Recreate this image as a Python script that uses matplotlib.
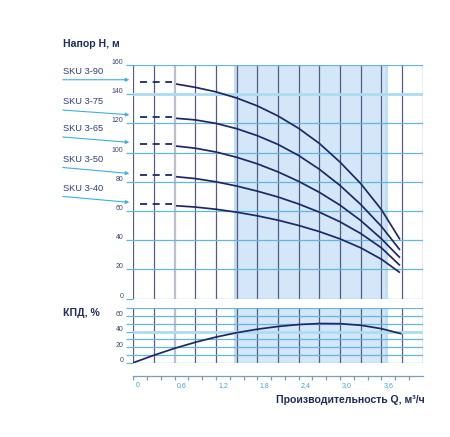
import numpy as np
import matplotlib
matplotlib.use("Agg")
import matplotlib.pyplot as plt
from matplotlib.transforms import ScaledTranslation

plt.rcParams['font.family'] = ['Liberation Sans', 'DejaVu Sans']

# --- data ---
models = ["SKU 3-90", "SKU 3-75", "SKU 3-65", "SKU 3-50", "SKU 3-40"]

# dashed part (start region) of each curve
q_dash = [0.09, 0.56]
h_shutoff = [148.6, 124.6, 105.7, 84.4, 64.6]

# solid head curves, H [m]
q_head = [0.62, 0.9, 1.2, 1.5, 1.8, 2.1, 2.4, 2.7, 3.0, 3.3, 3.6, 3.87]
h_3_90 = [147.0, 144.7, 141.6, 137.4, 132.0, 125.1, 116.6, 106.3, 93.5, 78.8, 61.0, 40.5]
h_3_75 = [123.5, 122.4, 120.0, 116.4, 111.6, 105.6, 98.0, 88.6, 77.5, 64.5, 49.5, 33.3]
h_3_65 = [104.5, 103.0, 100.4, 96.8, 92.3, 86.8, 80.3, 72.8, 64.0, 53.5, 41.0, 28.0]
h_3_50 = [83.5, 82.2, 80.0, 77.1, 73.6, 69.6, 64.8, 59.2, 52.6, 44.6, 34.8, 22.7]
h_3_40 = [63.6, 62.7, 61.2, 59.2, 56.7, 53.7, 50.1, 45.9, 40.9, 34.8, 27.0, 17.8]
heads = [h_3_90, h_3_75, h_3_65, h_3_50, h_3_40]

# efficiency curve, %
q_eff = [0, 0.3, 0.6, 0.9, 1.2, 1.5, 1.8, 2.1, 2.4, 2.7, 3.0, 3.3, 3.6, 3.88]
eff = [0, 9.6, 18.5, 26.3, 33.0, 38.6, 43.1, 46.6, 49.1, 50.4, 50.2, 48.2, 43.8, 37.5]

# recommended working range
work_lo, work_hi = 1.47, 3.67

x_labels = ["0", "0,6", "1,2", "1,8", "2,4", "3,0", "3,6"]

# --- styles ---
navy = '#1d2868'
grid_v = '#585c84'
grid_v_light = '#bcbfce'
grid_h = '#62b7dc'
grid_h_hl = '#abdcf1'
shade = '#d3e7f8'
shade_edge = '#c2def4'
tick_txt = '#3b4572'
lbl_blue = '#3aa6dd'
arrow_blue = '#3cb0e2'

W, H = 450, 437
fig = plt.figure(figsize=(W / 100, H / 100), dpi=100)
ax_h = fig.add_axes([133.3 / W, 1 - 298.6 / H, 289.4 / W, 233.6 / H])
ax_e = fig.add_axes([133.3 / W, 1 - 362.7 / H, 289.4 / W, 54.4 / H])

vlines = np.round(np.arange(0, 4.21, 0.3), 2)


def draw_grid(ax, ymax, ystep, highlight):
    ax.axvspan(work_lo, work_hi, color=shade, lw=0, zorder=0)
    for xe in (work_lo, work_hi):
        ax.axvline(xe, color=shade_edge, lw=2.2, zorder=0.5)
    for xv in vlines:
        if abs(xv - 0.6) < 1e-6:
            ax.axvline(xv, color=grid_v_light, lw=1.6, zorder=1)
        else:
            ax.axvline(xv, color=grid_v, lw=0.9, zorder=1)
    for yv in np.arange(0, ymax + 0.1, ystep):
        if abs(yv - highlight) < 1e-6:
            ax.axhline(yv, color=grid_h_hl, lw=2.0, zorder=1)
        else:
            ax.axhline(yv, color=grid_h, lw=0.9, zorder=1)
    ax.set_xlim(0, 4.2)
    ax.set_ylim(0, ymax)
    for s in ax.spines.values():
        s.set_visible(False)


# --- head chart ---
draw_grid(ax_h, 160, 20, 140)
for name, h0, hs in zip(models, h_shutoff, heads):
    ax_h.plot(q_dash, [h0, h0], color=navy, lw=1.3, ls=(0, (3.9, 3.1)), zorder=3)
    ax_h.plot(q_head, hs, color=navy, lw=1.25, zorder=3, solid_capstyle='butt',
              solid_joinstyle='round')

tails = [0, 3.4, 3.9, 4.3, 4.3]
for name, h0, dy in zip(models, h_shutoff, tails):
    ax_h.annotate('', xy=(-0.058, h0 + 1.3), xytext=(-47.9, dy), textcoords='offset points',
                  annotation_clip=False,
                  arrowprops=dict(arrowstyle='-|>', color=arrow_blue, lw=0.8,
                                  mutation_scale=5, shrinkA=0, shrinkB=0))
    ax_h.annotate(name, xy=(-0.058, h0 + 1.3), xytext=(-47.9, dy + 6.0),
                  textcoords='offset points', annotation_clip=False,
                  ha='left', va='center', fontsize=6.7, color='#2f3d7c')

ax_h.set_xticks([])
ax_h.set_yticks(np.arange(0, 161, 20))
ax_h.set_yticklabels([str(v) for v in range(0, 161, 20)])
ax_h.tick_params(axis='y', length=5, width=0.9, color=grid_h, pad=2,
                 labelsize=5, labelcolor=tick_txt)
up = ScaledTranslation(0, 3.5 / 100, fig.dpi_scale_trans)
for lab in ax_h.get_yticklabels():
    lab.set_transform(lab.get_transform() + up)

# --- efficiency chart ---
draw_grid(ax_e, 70, 10, 40)
ax_e.plot(q_eff, eff, color=navy, lw=1.25, zorder=3, solid_joinstyle='round')
ax_e.set_yticks([0, 20, 40, 60])
ax_e.set_yticklabels(["0", "20", "40", "60"])
ax_e.set_yticks(np.arange(0, 71, 10), minor=True)
ax_e.tick_params(axis='y', which='both', length=5, width=0.9, color=grid_h, pad=2,
                 labelsize=5, labelcolor=tick_txt)
up2 = ScaledTranslation(0, 3.0 / 100, fig.dpi_scale_trans)
for lab in ax_e.get_yticklabels():
    lab.set_transform(lab.get_transform() + up2)

ax_e.spines['bottom'].set_visible(True)
ax_e.spines['bottom'].set_position(('outward', 9.4))
ax_e.spines['bottom'].set_color('#7f9bb5')
ax_e.spines['bottom'].set_linewidth(0.9)
ax_e.set_xticks(np.arange(0, 3.61, 0.6))
ax_e.set_xticklabels(x_labels)
ax_e.set_xticks(np.arange(0, 4.01, 0.2), minor=True)
ax_e.tick_params(axis='x', which='both', length=3.2, width=0.9, color='#7f9bb5',
                 direction='out', pad=1.5, labelsize=5, labelcolor=lbl_blue)
right = ScaledTranslation(2.0 / 100, 0, fig.dpi_scale_trans)
for lab in ax_e.get_xticklabels():
    lab.set_horizontalalignment('left')
    lab.set_transform(lab.get_transform() + right)

# --- titles ---
fig.text(62.7 / W, 1 - 44 / H, "Напор Н, м", ha='left', va='center',
         fontsize=7.6, fontweight='bold', color='#1f2d5e')
fig.text(62.7 / W, 1 - 312.7 / H, "КПД, %", ha='left', va='center',
         fontsize=7.6, fontweight='bold', color='#1f2d5e')
fig.text(425 / W, 1 - 400 / H, "Производительность Q, м³/ч", ha='right', va='center',
         fontsize=7.6, fontweight='bold', color='#1f2d5e')

fig.savefig('out.png', dpi=100)
